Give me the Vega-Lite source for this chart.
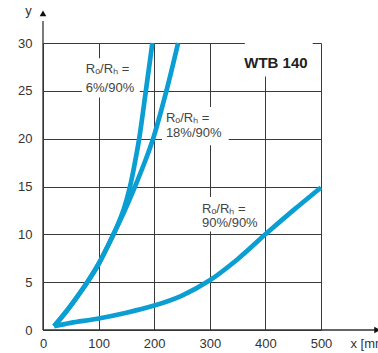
{
  "$schema": "https://vega.github.io/schema/vega-lite/v6.json",
  "width": 278,
  "height": 287,
  "autosize": {"type": "none"},
  "padding": {"left": 43, "top": 43, "right": 57, "bottom": 23},
  "background": "white",
  "config": {
    "view": {"stroke": null},
    "font": "Liberation Sans",
    "axis": {"labelFont": "Liberation Sans", "labelFontSize": 13, "labelColor": "#333333", "gridColor": "#3a3a3a", "gridOpacity": 1, "gridWidth": 1}
  },
  "datasets": {
    "curves": [
      {"series": "6%", "x": 20, "y": 0.4}, {"series": "6%", "x": 40, "y": 1.8}, {"series": "6%", "x": 63, "y": 3.6}, {"series": "6%", "x": 82, "y": 5.2}, {"series": "6%", "x": 100, "y": 6.9}, {"series": "6%", "x": 115, "y": 8.6}, {"series": "6%", "x": 130, "y": 10.4}, {"series": "6%", "x": 145, "y": 12.6}, {"series": "6%", "x": 156.5, "y": 15}, {"series": "6%", "x": 165, "y": 17.4}, {"series": "6%", "x": 173, "y": 20}, {"series": "6%", "x": 185, "y": 25}, {"series": "6%", "x": 196.7, "y": 30},
      {"series": "18%", "x": 20, "y": 0.4}, {"series": "18%", "x": 40, "y": 1.8}, {"series": "18%", "x": 63, "y": 3.6}, {"series": "18%", "x": 82, "y": 5.2}, {"series": "18%", "x": 100, "y": 6.9}, {"series": "18%", "x": 115, "y": 8.6}, {"series": "18%", "x": 130, "y": 10.4}, {"series": "18%", "x": 147, "y": 12.5}, {"series": "18%", "x": 165.5, "y": 15}, {"series": "18%", "x": 182, "y": 17.4}, {"series": "18%", "x": 198, "y": 20}, {"series": "18%", "x": 222, "y": 25}, {"series": "18%", "x": 243, "y": 30},
      {"series": "90%", "x": 20, "y": 0.4}, {"series": "90%", "x": 50, "y": 0.75}, {"series": "90%", "x": 100, "y": 1.2}, {"series": "90%", "x": 150, "y": 1.8}, {"series": "90%", "x": 200, "y": 2.55}, {"series": "90%", "x": 250, "y": 3.6}, {"series": "90%", "x": 300, "y": 5.2}, {"series": "90%", "x": 350, "y": 7.4}, {"series": "90%", "x": 400, "y": 10}, {"series": "90%", "x": 450, "y": 12.5}, {"series": "90%", "x": 500, "y": 14.9}
    ],
    "boxes": [
      {"x": 70, "x2": 174, "y": 24.3, "y2": 28.4},
      {"x": 214, "x2": 334, "y": 19.3, "y2": 23.3},
      {"x": 279, "x2": 394, "y": 10.3, "y2": 13.9},
      {"x": 363, "x2": 485, "y": 26.5, "y2": 30}
    ],
    "labels": [
      {"x": 77, "y": 27.3, "t": "Rₒ/Rₕ ="},
      {"x": 77, "y": 25.3, "t": "6%/90%"},
      {"x": 221, "y": 22.2, "t": "Rₒ/Rₕ ="},
      {"x": 221, "y": 20.6, "t": "18%/90%"},
      {"x": 286, "y": 12.6, "t": "Rₒ/Rₕ ="},
      {"x": 286, "y": 11.2, "t": "90%/90%"}
    ],
    "axislines": [
      {"x": 0, "x2": 0, "y": 0, "y2": 32.3},
      {"x": 0, "x2": 598, "y": 0, "y2": 0}
    ],
    "arrows": [
      {"x": 0, "y": 33.1, "shape": "triangle-up"},
      {"x": 601, "y": 0, "shape": "triangle-right"}
    ],
    "axistitles": [
      {"x": -32, "y": 33.3, "t": "y"},
      {"x": 553, "y": -1.5, "t": "x [mm]"}
    ]
  },
  "layer": [
    {
      "data": {"name": "boxes"},
      "mark": {"type": "rect", "fill": "white", "stroke": null},
      "encoding": {
        "x": {"field": "x", "type": "quantitative", "scale": {"domain": [0, 500], "nice": false}, "axis": {"values": [0, 50, 100, 150, 200, 250, 300, 350, 400, 450, 500], "labelExpr": "datum.value % 100 == 0 ? datum.label : ''", "ticks": false, "domain": false, "labelPadding": 7, "title": null, "grid": true, "labelFlush": false}},
        "x2": {"field": "x2"},
        "y": {"field": "y", "type": "quantitative", "scale": {"domain": [0, 30], "nice": false}, "axis": {"values": [0, 5, 10, 15, 20, 25, 30], "ticks": false, "domain": false, "labelPadding": 11, "title": null, "grid": true}},
        "y2": {"field": "y2"}
      }
    },
    {
      "data": {"name": "curves"},
      "mark": {"type": "line", "interpolate": "catmull-rom", "strokeWidth": 4.7, "color": "#0a9ed3", "strokeCap": "butt", "strokeJoin": "round"},
      "encoding": {
        "x": {"field": "x", "type": "quantitative"},
        "y": {"field": "y", "type": "quantitative"},
        "detail": {"field": "series"},
        "order": {"field": "x", "type": "quantitative"}
      }
    },
    {
      "data": {"name": "labels"},
      "mark": {"type": "text", "align": "left", "baseline": "middle", "fontSize": 13, "color": "#444444", "font": "Liberation Sans"},
      "encoding": {
        "x": {"field": "x", "type": "quantitative"},
        "y": {"field": "y", "type": "quantitative"},
        "text": {"field": "t"}
      }
    },
    {
      "data": {"values": [{"x": 419, "y": 27.9, "t": "WTB 140"}]},
      "mark": {"type": "text", "align": "center", "baseline": "middle", "fontSize": 15, "fontWeight": "bold", "color": "#222222", "font": "Liberation Sans"},
      "encoding": {
        "x": {"field": "x", "type": "quantitative"},
        "y": {"field": "y", "type": "quantitative"},
        "text": {"field": "t"}
      }
    },
    {
      "data": {"name": "axislines"},
      "mark": {"type": "rule", "color": "#333333", "strokeWidth": 1.3},
      "encoding": {
        "x": {"field": "x", "type": "quantitative"},
        "x2": {"field": "x2"},
        "y": {"field": "y", "type": "quantitative"},
        "y2": {"field": "y2"}
      }
    },
    {
      "data": {"name": "arrows"},
      "mark": {"type": "point", "filled": true, "color": "#111111", "size": 45, "opacity": 1},
      "encoding": {
        "x": {"field": "x", "type": "quantitative"},
        "y": {"field": "y", "type": "quantitative"},
        "shape": {"field": "shape", "type": "nominal", "scale": null}
      }
    },
    {
      "data": {"name": "axistitles"},
      "mark": {"type": "text", "align": "left", "baseline": "middle", "fontSize": 13, "color": "#333333", "font": "Liberation Sans"},
      "encoding": {
        "x": {"field": "x", "type": "quantitative"},
        "y": {"field": "y", "type": "quantitative"},
        "text": {"field": "t"}
      }
    }
  ]
}
